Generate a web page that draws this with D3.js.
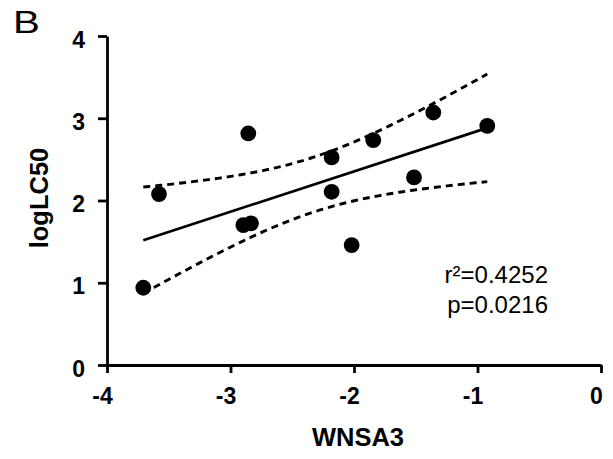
<!DOCTYPE html>
<html><head><meta charset="utf-8">
<script src="https://cdn.jsdelivr.net/npm/d3@7"></script>
<style>body{margin:0;background:#fff}svg{display:block}</style>
</head><body>
<svg id="c" width="613" height="459"></svg>
<script>
const wnsa3   = [-3.706,-3.579,-2.856,-2.896,-2.834,-2.181,-2.181,-2.019,-1.844,-1.514,-1.358,-0.921];
const logLC50 = [0.939, 2.078, 2.815, 1.701, 1.722, 2.524, 2.106, 1.458, 2.734, 2.281, 3.070, 2.908];
const xTicks = [-4,-3,-2,-1,0];
const yTicks = [0,1,2,3,4];
const statLines = ["r²=0.4252","p=0.0216"];
const panelLabel = "B";
const xTitle = "WNSA3";
const yTitle = "logLC50";
const tCrit = 2.228; // t(0.975, df = n-2 = 10)

const svg = d3.select("#c");
const FONT = "'Liberation Sans', Arial, Helvetica, sans-serif";
const x = d3.scaleLinear().domain([-4,0]).range([107,601]);
const y = d3.scaleLinear().domain([0,4]).range([365,36]);

// regression + 95% CI of the mean
const n = wnsa3.length;
const mx = d3.mean(wnsa3), my = d3.mean(logLC50);
let sxx=0, sxy=0, syy=0;
for (let i=0;i<n;i++){const dx=wnsa3[i]-mx, dy=logLC50[i]-my; sxx+=dx*dx; sxy+=dx*dy; syy+=dy*dy;}
const b = sxy/sxx, a = my - b*mx;
const s = Math.sqrt((syy - b*sxy)/(n-2));
const [xmin,xmax] = d3.extent(wnsa3);
const xs = d3.range(0,61).map(i => xmin + (xmax-xmin)*i/60);
const band = sign => xs.map(v => [v, a + b*v + sign*tCrit*s*Math.sqrt(1/n + (v-mx)*(v-mx)/sxx)]);
const line = d3.line().x(d=>x(d[0])).y(d=>y(d[1]));

svg.append("path").datum(band(1)).attr("d",line).attr("fill","none")
  .attr("stroke","#000").attr("stroke-width",2.9).attr("stroke-dasharray","7,5");
svg.append("path").datum(band(-1)).attr("d",line).attr("fill","none")
  .attr("stroke","#000").attr("stroke-width",2.9).attr("stroke-dasharray","7,5");
svg.append("path").datum([[xmin,a+b*xmin],[xmax,a+b*xmax]]).attr("d",line).attr("fill","none")
  .attr("stroke","#000").attr("stroke-width",2.7);

// axes
const yAxis = svg.append("g").attr("transform",`translate(${x(-4)},0)`)
  .call(d3.axisLeft(y).tickValues(yTicks).tickFormat(d=>String(d)).tickSize(9).tickSizeOuter(0).tickPadding(13));
const xAxis = svg.append("g").attr("transform",`translate(0,${y(0)})`)
  .call(d3.axisBottom(x).tickValues(xTicks).tickFormat(d=>String(d)).tickSize(8).tickSizeOuter(0).tickPadding(15));
[yAxis,xAxis].forEach(g=>{
  g.selectAll("path,line").attr("stroke","#000").attr("stroke-width",2.8);
  g.selectAll("text").attr("fill","#000").style("font-family",FONT).style("font-size","23px").style("font-weight","bold");
});
yAxis.selectAll("text").attr("dy","0.48em");
xAxis.selectAll("text").attr("x",-5);

// points
svg.append("g").selectAll("circle").data(wnsa3.map((v,i)=>[v,logLC50[i]])).join("circle")
  .attr("cx",d=>x(d[0])).attr("cy",d=>y(d[1])).attr("r",7.9).attr("fill","#000");

// titles
svg.append("text").attr("x",358).attr("y",446).attr("text-anchor","middle")
  .style("font-family",FONT).style("font-size","25.5px").style("font-weight","bold").text(xTitle);
svg.append("text").attr("transform","translate(48,198) rotate(-90)").attr("text-anchor","middle")
  .style("font-family",FONT).style("font-size","25.5px").style("font-weight","bold").text(yTitle);
svg.append("text").attr("transform","translate(13,33) scale(1.3,1)")
  .style("font-family",FONT).style("font-size","31px").text(panelLabel);

svg.append("g").selectAll("text").data(statLines).join("text")
  .attr("x",548).attr("y",(d,i)=>283+30*i).attr("text-anchor","end")
  .style("font-family",FONT).style("font-size","24px").text(d=>d);
</script>
</body></html>
